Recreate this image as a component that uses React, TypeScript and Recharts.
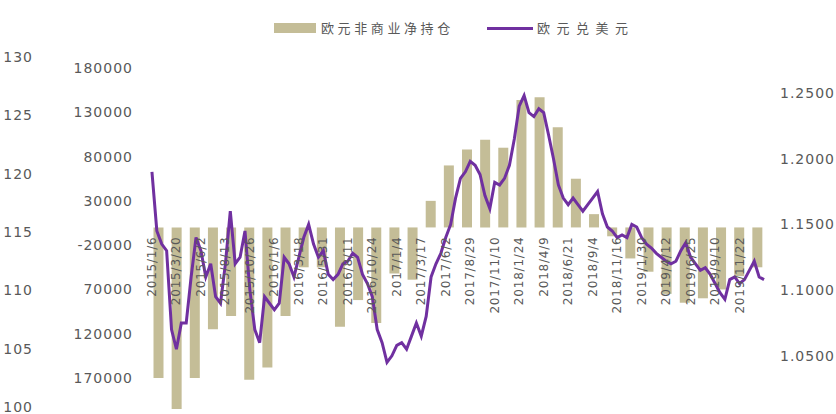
import React from 'react';
import { ComposedChart, Bar, Line, XAxis, YAxis } from 'recharts';

// ---------- data ----------
const seriesNames = ['欧元非商业净持仓', '欧元兑美元'];

const xTickLabels = [
  '2015/1/6', '2015/3/20', '2015/6/2', '2015/8/13', '2015/10/26',
  '2016/1/6', '2016/3/18', '2016/5/31', '2016/8/11', '2016/10/24',
  '2017/1/4', '2017/3/17', '2017/6/2', '2017/8/29', '2017/11/10',
  '2018/1/24', '2018/4/9', '2018/6/21', '2018/9/4', '2018/11/16',
  '2019/1/30', '2019/4/12', '2019/6/25', '2019/9/10', '2019/11/22',
];

// EUR/USD, roughly every two weeks (right axis)
const eurUsd = [
  1.19, 1.145, 1.135, 1.13, 1.07, 1.055, 1.075, 1.075, 1.11, 1.14,
  1.13, 1.11, 1.12, 1.095, 1.09, 1.12, 1.16, 1.12, 1.125, 1.145,
  1.10, 1.07, 1.06, 1.095, 1.09, 1.085, 1.09, 1.125, 1.12, 1.11,
  1.125, 1.14, 1.15, 1.135, 1.125, 1.13, 1.112, 1.108, 1.112, 1.12,
  1.122, 1.128, 1.125, 1.112, 1.105, 1.095, 1.07, 1.06, 1.045, 1.05,
  1.058, 1.06, 1.055, 1.065, 1.075, 1.065, 1.08, 1.11, 1.12, 1.128,
  1.14, 1.15, 1.17, 1.185, 1.19, 1.198, 1.195, 1.188, 1.172, 1.162,
  1.182, 1.18, 1.185, 1.195, 1.215, 1.24, 1.248, 1.235, 1.232, 1.238,
  1.235, 1.218, 1.20, 1.18, 1.17, 1.165, 1.17, 1.165, 1.16, 1.165,
  1.17, 1.175, 1.158, 1.148, 1.145, 1.14, 1.142, 1.14, 1.15, 1.148,
  1.14, 1.135, 1.132, 1.128, 1.125, 1.122, 1.12, 1.122, 1.13, 1.136,
  1.125, 1.12, 1.115, 1.117, 1.112, 1.105, 1.098, 1.093, 1.108, 1.11,
  1.105, 1.108, 1.115, 1.122, 1.11, 1.108,
];

// non-commercial net positions (left axis)
const netPositions = [
  -170000, -205000, -170000, -115000, -100000, -172000, -158000, -100000, -45000, -45000,
  -112000, -82000, -108000, -52000, -59000, 30000, 70000, 88000, 99000, 90000,
  144000, 147000, 113000, 55000, 15000, -10000, -35000, -50000, -75000, -85000,
  -80000, -70000, -55000, -45000,
];

const leftTicks = [180000, 130000, 80000, 30000, -20000, -70000, -120000, -170000];
const leftTickLabels = ['180000', '130000', '80000', '30000', '-20000', '70000', '120000', '170000'];
const leftDomain = [-209500, 180000];
const rightTicks = [1.05, 1.1, 1.15, 1.2, 1.25];
const rightDomain = [1.0065, 1.269];
const farLeftTicks = [100, 105, 110, 115, 120, 125, 130];
const farLeftDomain = [100, 130];

const lineData = eurUsd.map((v, i) => ({ i, rate: v }));
const barData = netPositions.map((v, k) => ({ k, net: v }));

// ---------- styles ----------
const W = 836;
const H = 414;
const PLOT_TOP = 68;
const PLOT_BOTTOM = 413;
const PLOT_LEFT = 149.5;
const PLOT_RIGHT = 766.5;
const TAN = '#C4BD97';
const PURPLE = '#7030A0';
const TEXT = '#595959';
const NUM_FONT = 'DejaVu Sans, sans-serif';
const CJK_FONT = '"Noto Sans CJK SC", sans-serif';

const zeroY =
  PLOT_TOP + ((PLOT_BOTTOM - PLOT_TOP) * leftDomain[1]) / (leftDomain[1] - leftDomain[0]);

const XTick = (props: any) => {
  const { x, payload } = props;
  const idx = Number(payload.value);
  if (idx % 5 !== 0) return <g />;
  const label = xTickLabels[idx / 5];
  if (!label) return <g />;
  const ty = zeroY + 9;
  return (
    <text
      x={x}
      y={ty}
      transform={`rotate(-90, ${x}, ${ty})`}
      textAnchor="end"
      dominantBaseline="central"
      fill={TEXT}
      fontSize={12}
      fontFamily={NUM_FONT}
      letterSpacing={0.8}
    >
      {label}
    </text>
  );
};

const numTick = { fill: TEXT, fontSize: 14, fontFamily: NUM_FONT, letterSpacing: 1 };

export default function App() {
  return (
    <div style={{ position: 'absolute', left: 0, top: 0, width: W, height: H, background: '#fff' }}>
      {/* far-left secondary scale */}
      <div style={{ position: 'absolute', left: 0, top: 0 }}>
        <ComposedChart
          width={W}
          height={H}
          data={[{ v: farLeftDomain[0] }, { v: farLeftDomain[1] }]}
          margin={{ top: 57, right: 0, bottom: 7, left: 0 }}
        >
          <XAxis hide />
          <YAxis
            domain={farLeftDomain}
            ticks={farLeftTicks}
            allowDataOverflow
            width={40}
            axisLine={false}
            tickLine={false}
            tickSize={0}
            tickMargin={7}
            tick={numTick}
            interval={0}
          />
        </ComposedChart>
      </div>

      {/* main chart */}
      <div style={{ position: 'absolute', left: 0, top: 0 }}>
        <ComposedChart
          width={W}
          height={H}
          data={barData}
          margin={{
            top: PLOT_TOP,
            right: W - PLOT_RIGHT - 60,
            bottom: H - PLOT_BOTTOM - 1,
            left: PLOT_LEFT - 80,
          }}
        >
          <XAxis xAxisId="b" dataKey="k" type="category" hide />
          <XAxis
            xAxisId="l"
            dataKey="i"
            type="category"
            allowDuplicatedCategory={false}
            interval={4}
            height={1}
            axisLine={false}
            tickLine={false}
            tick={<XTick />}
          />
          <YAxis
            yAxisId="left"
            domain={leftDomain}
            ticks={leftTicks}
            allowDataOverflow
            width={80}
            axisLine={false}
            tickLine={false}
            tickSize={0}
            tickMargin={16.5}
            interval={0}
            tick={numTick}
            tickFormatter={(v: number) => leftTickLabels[leftTicks.indexOf(v)] ?? String(v)}
          />
          <YAxis
            yAxisId="right"
            orientation="right"
            domain={rightDomain}
            ticks={rightTicks}
            allowDataOverflow
            width={60}
            axisLine={false}
            tickLine={false}
            tickSize={0}
            tickMargin={13.5}
            interval={0}
            tick={numTick}
            tickFormatter={(v: number) => v.toFixed(4)}
          />
          <Bar
            xAxisId="b"
            yAxisId="left"
            dataKey="net"
            name={seriesNames[0]}
            fill={TAN}
            barSize={10}
            isAnimationActive={false}
          />
          <Line
            xAxisId="l"
            yAxisId="right"
            data={lineData}
            dataKey="rate"
            name={seriesNames[1]}
            stroke={PURPLE}
            strokeWidth={3}
            dot={false}
            activeDot={false}
            isAnimationActive={false}
          />
        </ComposedChart>
      </div>

      {/* legend */}
      <div style={{ position: 'absolute', left: 274, top: 23, width: 42, height: 10, background: TAN }} />
      <div
        style={{
          position: 'absolute',
          left: 321,
          top: 20,
          fontSize: 13,
          lineHeight: '16px',
          fontFamily: CJK_FONT,
          color: TEXT,
          letterSpacing: 3.6,
          whiteSpace: 'nowrap',
        }}
      >
        {seriesNames[0]}
      </div>
      <div style={{ position: 'absolute', left: 487, top: 27, width: 46, height: 2.5, background: PURPLE }} />
      <div
        style={{
          position: 'absolute',
          left: 537,
          top: 20,
          fontSize: 13,
          lineHeight: '16px',
          fontFamily: CJK_FONT,
          color: TEXT,
          letterSpacing: 6.5,
          whiteSpace: 'nowrap',
        }}
      >
        {seriesNames[1]}
      </div>
    </div>
  );
}
